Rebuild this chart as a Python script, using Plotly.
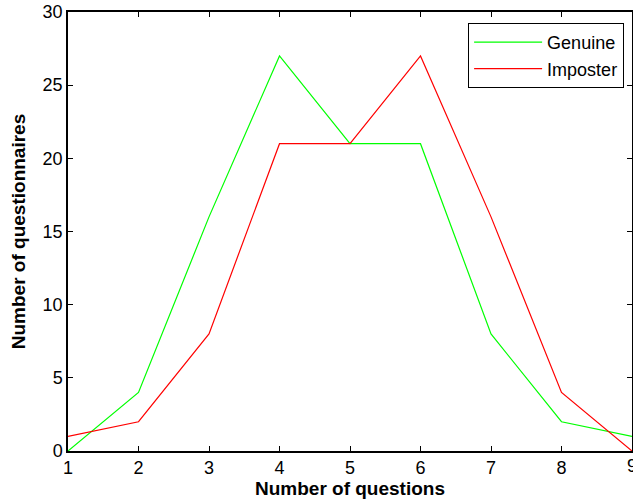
import plotly.graph_objects as go

questions = [1, 2, 3, 4, 5, 6, 7, 8, 9]
genuine = [0, 4, 16, 27, 21, 21, 8, 2, 1]
imposter = [1, 2, 8, 21, 21, 27, 16, 4, 0]
y_ticks = [0, 5, 10, 15, 20, 25, 30]

fig = go.Figure()
fig.add_trace(go.Scatter(x=questions, y=genuine, mode="lines", name="Genuine",
                         line=dict(color="#00ff00", width=1.2)))
fig.add_trace(go.Scatter(x=questions, y=imposter, mode="lines", name="Imposter",
                         line=dict(color="#ff0000", width=1.2)))

tick_font = dict(family="Liberation Sans, Arial", size=18, color="black")
axis_common = dict(showgrid=False, zeroline=False, showline=True, linecolor="black",
                   linewidth=1.5, mirror="allticks", ticks="inside", ticklen=5,
                   tickcolor="black", automargin=False, tickfont=tick_font)

fig.update_layout(
    width=633, height=503,
    margin=dict(l=68, r=1, t=12, b=52),
    paper_bgcolor="white", plot_bgcolor="white",
    font=dict(family="Liberation Sans, Arial", color="black"),
    xaxis=dict(range=[1, 9], tickvals=questions,
               title=dict(text="<b>Number of questions</b>", font=dict(size=19), standoff=4),
               **axis_common),
    yaxis=dict(range=[0, 30], tickvals=y_ticks,
               title=dict(text="<b>Number of questionnaires</b>", font=dict(size=19), standoff=12),
               **axis_common),
    legend=dict(x=0.986, y=0.975, xanchor="right", yanchor="top",
                bgcolor="white", bordercolor="black", borderwidth=1,
                font=dict(size=18, family="Liberation Sans, Arial"),
                tracegroupgap=0, itemwidth=68),
    showlegend=True,
)

# last tick label sits on the figure edge (plotly auto-hides it), draw it as text
fig.add_annotation(x=questions[-1], y=0, xref="x", yref="paper", text=str(questions[-1]),
                   showarrow=False, yanchor="top", yshift=-3, font=tick_font)

fig.write_html("out.html", config={"displayModeBar": False},
               post_script="document.body.style.margin='0';document.body.style.overflow='hidden';")
